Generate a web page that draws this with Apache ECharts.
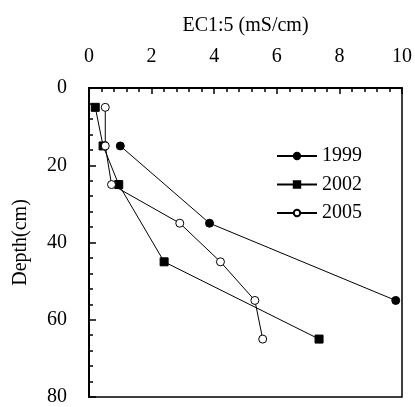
<!DOCTYPE html>
<html>
<head>
<meta charset="utf-8">
<script src="https://cdn.jsdelivr.net/npm/echarts@6/dist/echarts.min.js"></script>
<style>
  html, body { margin: 0; padding: 0; background: #fff; }
  #chart { width: 415px; height: 407px; }
</style>
</head>
<body>
<div id="chart"></div>
<script>
// EC values (mS/cm) against depth (cm)
const depth1999 = [15, 35, 55];
const ec1999 = [1.0, 3.85, 9.8];
const depth2002 = [5, 15, 25, 45, 65];
const ec2002 = [0.2, 0.45, 0.95, 2.4, 7.35];
const depth2005 = [5, 15, 25, 35, 45, 55, 65];
const ec2005 = [0.52, 0.52, 0.72, 2.9, 4.2, 5.3, 5.55];
const xTicks = [0, 2, 4, 6, 8, 10];
const yTicks = [0, 20, 40, 60, 80];

const font = "Liberation Serif";

function pairs(xs, ys) {
  return xs.map((x, i) => [x, ys[i]]);
}

const chart = echarts.init(document.getElementById("chart"));

const lineSeries = (name, data, symbol, size, fill) => ({
  name: name,
  type: "line",
  data: data,
  symbol: symbol,
  symbolSize: size,
  showSymbol: true,
  animation: false,
  lineStyle: { color: "#000", width: 1 },
  itemStyle: { color: fill, borderColor: "#000", borderWidth: 1 },
  emphasis: { disabled: true },
  z: 3,
});

chart.setOption({
  backgroundColor: "#fff",
  textStyle: { fontFamily: font, color: "#000" },
  grid: {
    left: 89,
    top: 88,
    right: 6,
    bottom: 7,
    show: true,
    borderColor: "#000",
    borderWidth: 1.5,
  },
  legend: {
    orient: "vertical",
    left: 271,
    top: 141,
    itemWidth: 40,
    itemHeight: 8,
    itemGap: 8.5,
    textStyle: { fontFamily: font, fontSize: 20, color: "#000" },
    data: ["1999", "2002", "2005"],
  },
  xAxis: {
    type: "value",
    position: "top",
    min: 0,
    max: 10,
    interval: 2,
    name: "EC1:5 (mS/cm)",
    nameLocation: "middle",
    nameGap: 52,
    nameTextStyle: { fontFamily: font, fontSize: 20, color: "#000" },
    axisLine: { show: true, lineStyle: { color: "#000", width: 2 } },
    axisTick: { show: true, inside: true, length: 6, lineStyle: { color: "#000", width: 1.5 } },
    minorTick: { show: true, splitNumber: 5, length: 4, lineStyle: { color: "#000", width: 1.5 } },
    splitLine: { show: false },
    axisLabel: {
      fontFamily: font,
      fontSize: 20,
      color: "#000",
      margin: 21,
      formatter: (v) => (xTicks.includes(v) ? String(v) : ""),
    },
  },
  yAxis: {
    type: "value",
    inverse: true,
    min: 0,
    max: 80,
    interval: 20,
    name: "Depth(cm)",
    nameLocation: "middle",
    nameGap: 58,
    nameTextStyle: { fontFamily: font, fontSize: 20, color: "#000" },
    axisLine: { show: true, lineStyle: { color: "#000", width: 2 } },
    axisTick: { show: true, inside: true, length: 7, lineStyle: { color: "#000", width: 1.5 } },
    minorTick: { show: true, splitNumber: 5, length: 4, lineStyle: { color: "#000", width: 1.5 } },
    splitLine: { show: false },
    axisLabel: {
      fontFamily: font,
      fontSize: 20,
      color: "#000",
      margin: 22,
      formatter: (v) => (yTicks.includes(v) ? String(v) : ""),
    },
  },
  series: [
    lineSeries("1999", pairs(ec1999, depth1999), "circle", 8, "#000"),
    lineSeries("2002", pairs(ec2002, depth2002), "rect", 8, "#000"),
    lineSeries("2005", pairs(ec2005, depth2005), "circle", 8, "#fff"),
  ],
});
</script>
</body>
</html>
